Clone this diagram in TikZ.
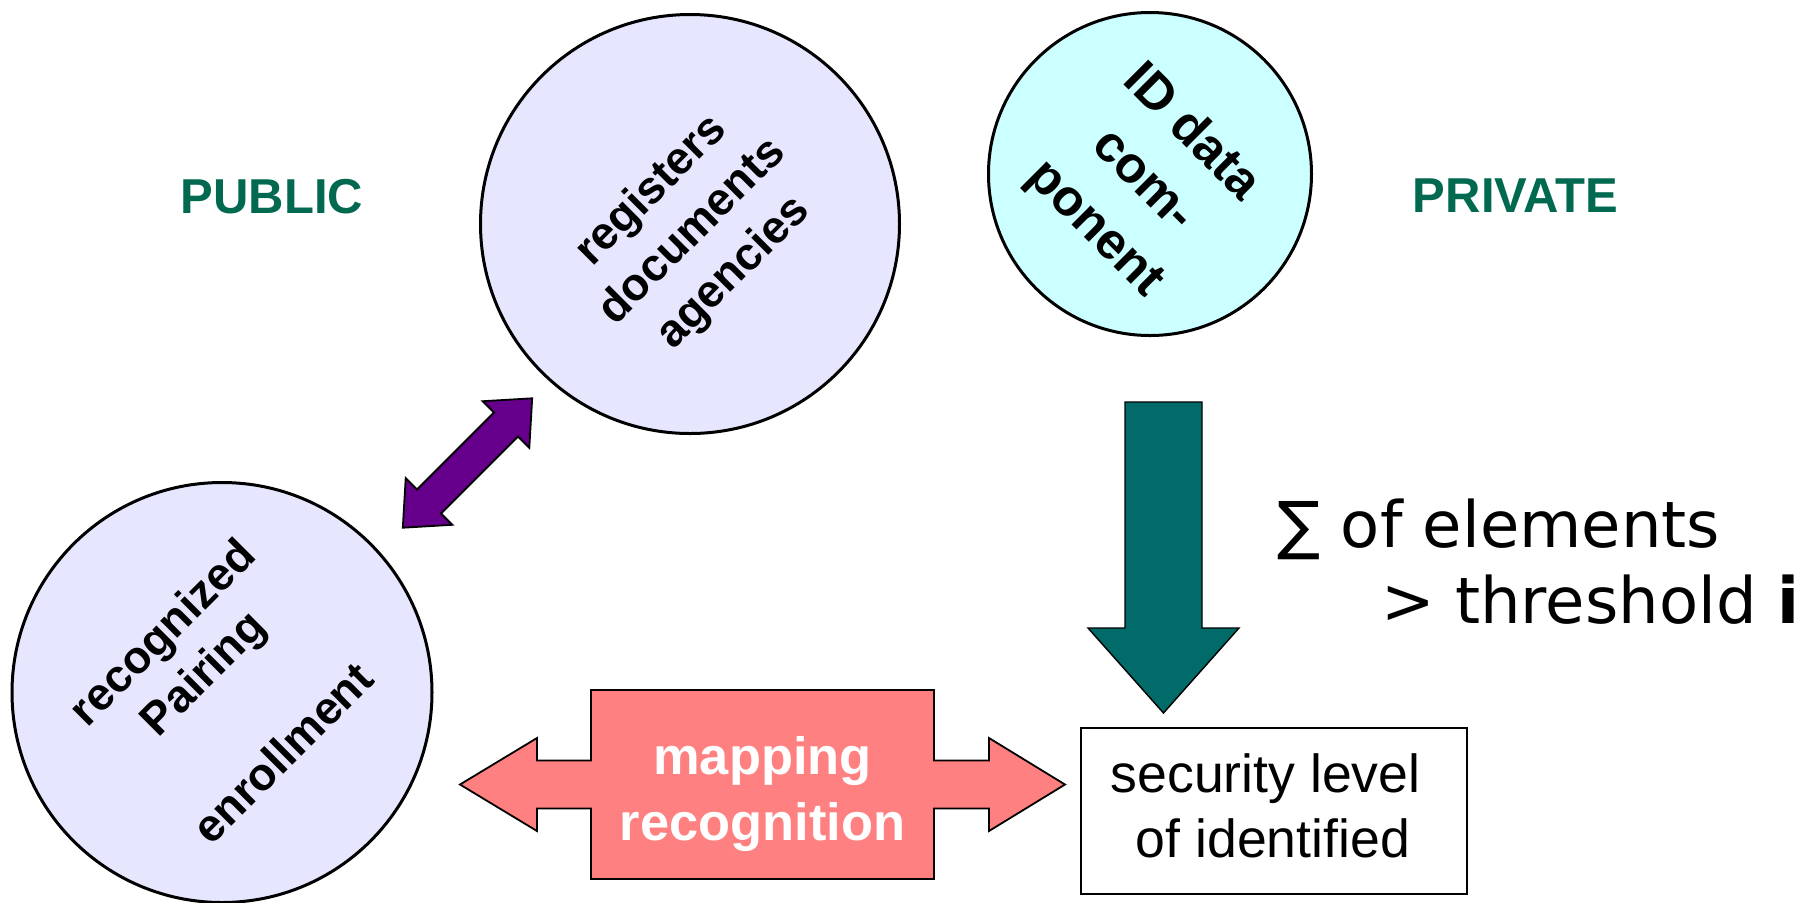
\documentclass[tikz,border=0pt]{standalone}
\usepackage{fontspec}
\setmainfont{Liberation Sans}
\newfontfamily\sigfont{DejaVu Sans}
\definecolor{lav}{HTML}{E6E6FF}
\definecolor{cyanfill}{HTML}{CCFFFF}
\definecolor{purp}{HTML}{66008C}
\definecolor{pinkfill}{HTML}{FF8080}
\definecolor{tealfill}{HTML}{006B69}
\definecolor{labgreen}{HTML}{00694F}
\begin{document}
\begin{tikzpicture}[x=0.5pt,y=-0.5pt,
  bubble/.style={circle, draw=black, line width=1.5pt, inner sep=0pt},
  bubtext/.style={align=center, inner sep=0pt, font=\bfseries\fontsize{22.8}{29}\selectfont},
  blockarrow/.style={draw=black, line width=0.9pt, line join=miter},
  sidelabel/.style={text=labgreen, inner sep=0pt, font=\bfseries\fontsize{24.5}{29}\selectfont}]
\useasboundingbox (0,0) rectangle (1801,902);

% circles
\node[bubble, fill=lav, minimum size=209.5pt] (reg) at (690,224) {};
\node[bubble, fill=cyanfill, minimum size=161.5pt] (idc) at (1150,174) {};
\node[bubble, fill=lav, minimum size=210pt] (rec) at (222,692.5) {};

\node[bubtext, rotate=45] (regt) at (693,232) {registers\\documents\\agencies};
\node[bubtext, rotate=-45, font=\bfseries\fontsize{25.5}{34}\selectfont] (idt) at (1143,181) {ID data\\com-\\ponent};
\node[bubtext, rotate=45, font=\bfseries\fontsize{22.8}{28.5}\selectfont] (rect) at (222,692) {recognized\\Pairing\\\mbox{}\\enrollment};

% side labels
\node[sidelabel] (pub) at (272,197) {PUBLIC};
\node[sidelabel] (priv) at (1515.5,196) {PRIVATE};

% purple double arrow
\draw[blockarrow, fill=purp] (532.2,398.3) -- (529.3,447.8) -- (518,436.5) -- (441,513.5)
  -- (452.3,524.8) -- (402.8,527.7) -- (405.7,478.2) -- (417,489.5) -- (494,412.5)
  -- (482.7,401.2) -- cycle;

% pink double arrow with box
\draw[blockarrow, fill=pinkfill] (460,784.5) -- (537,738) -- (537,760.5) -- (591,760.5)
  -- (591,690) -- (934,690) -- (934,760.5) -- (989,760.5) -- (989,738) -- (1065,784.5)
  -- (989,831) -- (989,808.5) -- (934,808.5) -- (934,879) -- (591,879) -- (591,808.5)
  -- (537,808.5) -- (537,831) -- cycle;
\node[text=white, align=center, inner sep=0pt, font=\bfseries\fontsize{26.2}{33}\selectfont] (map) at (762.5,794) {mapping\\recognition};

% teal down arrow
\draw[blockarrow, fill=tealfill, line width=0.7pt] (1125,402) -- (1202,402) -- (1202,628) -- (1239,628)
  -- (1163.5,713) -- (1088,628) -- (1125,628) -- cycle;

% security box
\node[draw=black, line width=1pt, minimum width=193pt, minimum height=83pt, inner sep=0pt] (sec) at (1274,811) {};
\node[align=center, inner sep=0pt, font=\fontsize{26.8}{32.5}\selectfont] (sect) at (1273,806) {security level\hspace*{0.28em}\\of identified};

% sum text
\node[anchor=base west, inner sep=0pt, font=\sigfont\fontsize{32}{38}\selectfont] (sum1) at (1277,547) {∑ of elements};
\node[anchor=base west, inner sep=0pt, font=\sigfont\fontsize{32}{38}\selectfont] (sum2) at (1381,623) {> threshold \textbf{i}};
\end{tikzpicture}
\end{document}
